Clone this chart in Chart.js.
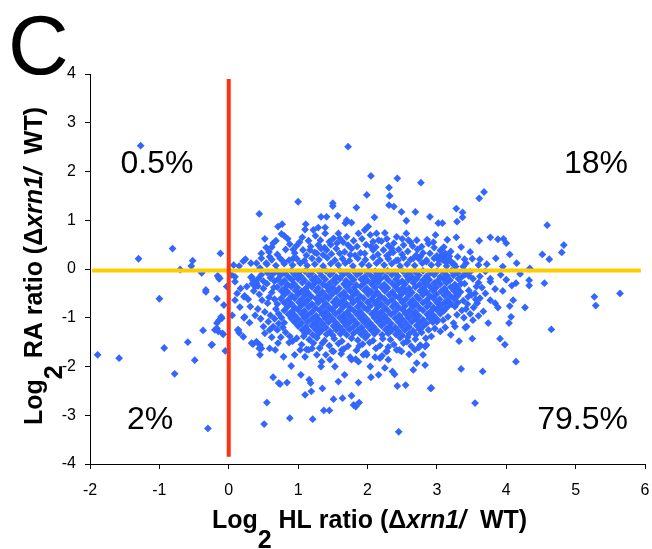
<!DOCTYPE html>
<html>
<head>
<meta charset="utf-8">
<script src="https://cdn.jsdelivr.net/npm/chart.js@4.4.1/dist/chart.umd.min.js"></script>
<style>
html,body{margin:0;padding:0;background:#fff;}
#wrap{position:relative;width:652px;height:549px;}
canvas{display:block;}
</style>
</head>
<body>
<div id="wrap"><canvas id="c" width="652" height="549"></canvas></div>
<script>
// ---- axis settings ----
const xRange = [-2, 6];
const yRange = [-4, 4];
const tickStep = 1;

// ---- reference lines ----
const horizontalLine = [[-1.97, -0.03], [5.94, -0.03]];
const verticalLine = [[0, 3.9], [0, -3.85]];

// ---- quadrant labels ----
const quadrantLabels = ['0.5%', '18%', '2%', '79.5%'];

// ---- genes: [log2 HL ratio, log2 RA ratio] ----
const upperLeftGenes = [
 [-1.27,2.53],[-0.81,0.42],[-1.30,0.21],[-0.52,0.17],[-0.54,0.06],[-0.12,0.32]
];

const lowerLeftGenes = [
 [-0.70,-0.01],[-0.39,-0.08],[-0.16,-0.14],[-0.14,-0.20],[-0.33,-0.43],[-0.03,-0.36],
 [-1.89,-1.76],[-1.58,-1.83],[-1.00,-0.61],[-0.93,-1.62],[-0.78,-2.15],[-0.59,-1.50],
 [-0.49,-1.87],[-0.33,-0.47],[-0.37,-1.26],[-0.24,-1.55],[-0.30,-3.27],[-0.17,-0.61],
 [-0.07,-0.74],[-0.11,-0.98],[-0.14,-1.05],[-0.17,-1.11],[-0.17,-1.22],[-0.15,-1.28],
 [-0.08,-1.34],[-0.05,-1.68],[-0.13,-0.19],[-0.15,-0.16],[-0.20,-1.25],[-0.09,-1.32],
 [-0.25,-1.56],[-0.10,-1.01]
];

const upperRightGenes = [
 [1.72,2.51],[2.05,1.91],[2.43,1.86],[2.77,1.77],[2.31,1.67],[1.99,1.52],[2.32,1.50],
 [1.50,1.35],[1.50,1.29],[1.00,1.38],[0.44,1.13],[1.84,1.26],[2.31,1.31],[2.38,1.28],
 [1.33,1.07],[1.41,1.07],[1.57,1.09],[2.10,1.06],[2.90,1.07],[2.49,1.17],[2.69,1.17],
 [3.37,1.16],[3.37,1.06],[3.28,1.24],[3.61,1.45],[3.68,1.58],[4.59,0.90],
 [0.71,0.87],[0.77,0.92],[1.11,0.92],[1.70,1.00],[1.68,0.94],[1.77,0.95],[2.56,0.99],
 [3.02,0.94],[3.08,0.94],[3.29,0.97],[1.10,0.81],[0.76,0.72],[0.80,0.68],[1.22,0.80],
 [1.29,0.85],[1.39,0.85],[1.06,0.65],[1.58,0.73],[1.60,0.63],[1.56,0.53],[1.51,0.63],
 [1.39,0.73],[1.32,0.59],[1.29,0.49],[1.72,0.49],[1.77,0.42],[1.87,0.73],[1.96,0.80],
 [2.01,0.87],[2.04,0.70],[2.08,0.56],[2.13,0.73],[2.25,0.74],[2.16,0.59],[2.42,0.66],
 [2.38,0.53],[2.56,0.73],[2.59,0.59],[2.71,0.59],[2.65,0.47],[2.52,0.49],[2.96,0.44],
 [3.07,0.29],[3.12,0.32],[2.90,0.32],[2.76,0.25],[2.85,0.15],[2.66,0.22],[2.44,0.18],
 [2.32,0.32],[2.23,0.39],[2.08,0.39],[1.96,0.32],[1.75,0.29],[1.60,0.32],[1.41,0.39],
 [1.27,0.32],[1.17,0.39],[1.07,0.39],[0.93,0.22],[0.79,0.15],[0.59,0.25],[0.40,0.12],
 [0.88,0.51],[0.64,0.53],[0.54,0.44],[0.47,0.32],[0.47,0.22],[0.54,0.12],
 [3.28,0.65],[3.61,0.58],[3.77,0.65],[3.88,0.61],[3.96,0.62],[4.00,0.53],
 [4.83,0.49],[4.80,0.34],[4.52,0.30],[4.62,0.20],[4.34,0.01],
 [3.48,0.35],[3.51,0.21],[3.62,0.20],[3.60,0.08],[3.04,0.22],[3.11,0.22],[3.03,0.18],
 [3.13,0.14],[3.18,0.17],[3.25,0.10],[3.27,0.05],[3.42,0.12],[3.72,0.10],[3.85,0.22],
 [4.05,0.30],[4.15,0.12],[3.95,0.05],
 [0.07,0.08],[0.15,0.06],[0.21,0.16],[0.24,0.20],[0.32,0.12],[0.45,0.02],
 [0.55,0.10],[0.68,0.07],[0.80,0.11],[0.92,0.08],[1.03,0.12],[1.13,0.07],[1.24,0.10],
 [1.36,0.06],[1.47,0.11],[1.58,0.08],[1.68,0.12],[1.79,0.06],[1.92,0.10],[2.02,0.07],
 [2.13,0.12],[2.24,0.08],[2.35,0.11],[2.47,0.06],[2.57,0.10],[2.68,0.07],[2.79,0.12],
 [2.92,0.08],[3.02,0.10],[3.14,0.06],[3.24,0.09],[3.38,0.05],
 [0.62,0.19],[0.74,0.22],[0.87,0.18],[0.98,0.21],[1.09,0.17],[1.20,0.22],[1.30,0.19],
 [1.42,0.23],[1.53,0.18],[1.64,0.21],[1.74,0.17],[1.86,0.22],[1.97,0.19],[2.08,0.24],
 [2.18,0.18],[2.30,0.21],[2.41,0.17],[2.52,0.23],[2.62,0.19],[2.74,0.21],[2.85,0.18],
 [2.96,0.22],[3.08,0.19],[3.20,0.16],
 [0.70,0.30],[0.95,0.33],[1.12,0.28],[1.24,0.34],[1.36,0.29],[1.48,0.31],[1.67,0.35],
 [1.82,0.28],[1.90,0.33],[2.15,0.30],[2.28,0.27],[2.37,0.34],[2.50,0.30],[2.58,0.36],
 [2.70,0.28],[2.80,0.33],[3.00,0.27],[3.18,0.26],
 [0.62,0.45],[0.98,0.48],[1.18,0.46],[1.38,0.44],[1.55,0.42],[1.85,0.46],[1.98,0.50],
 [2.12,0.45],[2.30,0.48],[2.45,0.40],[2.62,0.55],[2.78,0.46],[2.88,0.52],[3.10,0.45],
 [1.02,0.55],[1.45,0.56],[2.20,0.57],[2.86,0.60],
 [0.52,0.62],[0.68,0.58],[0.85,0.62],[0.93,0.40],[1.15,0.58],[1.25,0.68],[1.33,0.42],
 [1.47,0.50],[1.65,0.55],[1.70,0.66],[1.80,0.58],[1.92,0.62],[2.05,0.46],[2.28,0.62],
 [2.35,0.42],[2.50,0.62],[2.72,0.40],[2.95,0.55],[3.05,0.38],[3.20,0.36],[3.35,0.45],
 [3.15,0.60],[2.98,0.70],[0.58,0.35],[0.82,0.40],[3.30,0.25],[3.40,0.20]
];

const lowerRightGenes = [
 // outer lower-right scatter
 [5.64,-0.50],[5.27,-0.57],[5.29,-0.75],[4.55,-0.29],[4.33,-0.23],[4.33,-0.34],[4.20,-0.10],
 [4.65,-1.24],[4.27,-0.79],[4.10,-0.64],[4.05,-0.76],[4.07,-0.98],[4.04,-1.11],[4.14,-1.90],
 [3.91,-1.43],[3.98,-1.55],[3.66,-2.10],[3.35,-2.05],[3.55,-2.75],[2.92,-2.44],[3.51,-1.43],
 [3.32,-1.48],[3.88,-0.79],[3.84,-0.70],[3.77,-0.64],[3.74,-1.11],[3.67,-0.87],[3.60,-0.96],
 [3.53,-0.79],[3.43,-1.18],[3.41,-1.20],[3.77,-0.26],[3.84,-0.41],[3.65,-0.38],[3.57,-0.36],
 [3.50,-0.53],[3.45,-0.57],[3.62,-0.60],[3.55,-0.50],[4.08,-0.34],[4.14,-0.29],[3.77,-0.20],
 [3.40,-0.30],[3.46,-0.44],[3.38,-0.65],[3.44,-0.72],[3.36,-0.85],[3.48,-0.92],[3.39,-1.00],
 [3.52,-1.05],[3.58,-0.70],[3.70,-0.50],[3.40,-0.12],[3.52,-0.20],[3.62,-0.15],[3.70,-0.05],
 [3.92,-0.12],[4.00,-0.22],[3.95,-0.45],
 [2.97,-1.22],[2.95,-1.05],[3.24,-1.11],[3.26,-1.18],[3.00,-1.08],[3.09,-1.05],[3.16,-0.98],
 [3.29,-0.94],[3.26,-0.77],[3.19,-0.70],[3.09,-0.84],[3.02,-0.70],
 [3.30,-0.55],[3.42,-0.82],[3.56,-0.62],[3.60,-0.28],[3.48,-0.06],
 // lower tail
 [0.88,-3.06],[1.21,-3.08],[1.37,-2.90],[1.45,-2.90],[1.51,-2.67],[1.64,-2.65],[1.77,-2.60],
 [1.80,-2.79],[1.88,-2.74],[1.83,-2.82],[2.45,-3.34],[2.43,-2.40],[2.55,-2.38],[2.91,-2.45],
 [1.10,-2.58],[1.19,-2.51],[0.64,-2.22],[0.74,-2.36],[0.84,-2.33],[1.04,-2.17],[1.16,-2.27],
 [1.18,-2.34],[1.35,-2.45],[1.58,-2.31],[1.67,-2.17],[1.87,-2.33],[2.05,-2.22],[2.16,-2.17],
 [2.36,-2.10],[2.39,-2.16],[0.90,-1.99],[1.33,-2.00],[1.34,-1.90],[1.53,-2.00],[1.77,-1.86],
 [1.87,-1.90],[1.94,-1.76],[2.04,-2.00],[2.25,-2.03],[2.30,-1.86],[2.49,-1.69],[2.66,-2.07],
 [2.71,-1.93],[2.83,-1.97],[2.80,-1.76],[2.83,-1.59],[0.55,-2.74],[0.51,-3.18],[0.72,-2.34],
 [0.45,-1.76],[0.35,-1.54],[0.44,-1.63],[0.59,-1.63],[0.67,-1.66],[0.71,-1.52],[0.79,-1.80],
 [0.87,-1.51],[0.95,-1.76],[1.03,-1.66],[1.10,-1.80],[1.15,-1.66],[1.20,-1.63],[1.27,-1.76],
 [1.46,-1.86],[1.51,-1.69],[1.63,-1.66],[1.75,-1.81],[1.83,-1.85],[1.99,-1.76],[2.11,-1.81],
 [2.18,-1.83],[2.28,-1.69],[2.42,-1.66],[2.56,-1.49],[2.68,-1.66],[2.76,-1.56],[2.85,-1.56],
 // near the vertical line
 [0.09,-0.16],[0.09,-0.26],[0.05,-0.95],[0.09,-0.64],[0.13,-1.25],[0.15,-1.31],[0.21,-1.39],
 [0.22,-1.00],[0.22,-0.57],[0.31,-0.77],[0.33,-1.52],[0.40,-1.49],[0.45,-1.56],[0.47,-1.63],
 [0.52,-1.32],[0.59,-1.25],[0.64,-1.18],[0.04,-0.12],[0.14,-1.25],[0.23,-0.98],[0.33,-0.16],
 [0.35,-0.23],[0.40,-0.29],[0.43,-0.19],[0.38,-0.36],[0.23,-0.55],[0.32,-0.17],
 [0.36,-0.45],[0.44,-0.52],[0.50,-0.40],[0.55,-0.30],[0.60,-0.18],[0.62,-0.48],[0.48,-0.64],
 [0.56,-0.70],[0.66,-0.62],[0.42,-0.82],[0.52,-0.88],[0.60,-0.95],[0.68,-0.82],[0.46,-1.02],
 [0.57,-1.08],[0.66,-1.02],[0.72,-1.12],[0.38,-0.95],[0.30,-1.10],[0.50,-1.18],[0.70,-1.25],
 [0.78,-1.20],[0.82,-1.30],[0.75,-1.40],[0.62,-1.40],[0.88,-1.38],[0.65,-0.38],[0.66,-0.25],
 [0.58,-0.58],[0.70,-0.72],[0.72,-0.92],[0.76,-1.00],[0.80,-1.10],[0.28,-0.62],[0.26,-0.36],
 [0.17,-0.40],[0.16,-0.78],[0.12,-0.50],[0.47,-0.12],[0.56,-0.08],[0.64,-0.10],[0.34,-0.30],
 [0.42,-0.35],[0.50,-0.25],
 // semi-dense lower band
 [0.98,-1.42],[1.16,-1.45],[1.27,-1.41],[1.38,-1.47],[1.52,-1.43],[1.63,-1.48],[1.77,-1.42],
 [1.86,-1.46],[1.97,-1.41],[2.08,-1.47],[2.22,-1.43],[2.33,-1.45],[2.47,-1.41],[2.58,-1.48],
 [2.69,-1.44],[2.84,-1.42],[1.05,-1.55],[1.22,-1.52],[1.45,-1.57],[1.58,-1.53],[1.72,-1.58],
 [1.93,-1.54],[2.03,-1.51],[2.18,-1.57],[2.38,-1.55],[2.52,-1.52],[2.63,-1.58],[1.12,-1.65],
 [1.31,-1.62],[1.49,-1.68],[1.66,-1.64],[1.84,-1.67],[2.12,-1.63],[2.27,-1.69],[2.46,-1.66],
 [2.74,-1.61],[1.40,-1.76],[1.62,-1.74],[1.98,-1.72],[2.21,-1.78],[2.60,-1.75],
 [0.92,-1.48],[1.08,-1.38],[2.78,-1.30],[2.88,-1.25],[2.92,-1.38],[3.05,-1.28],[3.12,-1.20],
 [3.20,-1.35],[1.35,-1.52],[1.88,-1.58],[2.30,-1.60],[2.58,-1.40],
 // dense core
 [0.70,-0.05],[0.81,-0.08],[0.90,-0.04],[1.01,-0.07],[1.10,-0.05],[1.19,-0.09],[1.31,-0.06],
 [1.40,-0.04],[1.49,-0.08],[1.61,-0.05],[1.70,-0.07],[1.80,-0.04],[1.89,-0.08],[2.00,-0.06],
 [2.11,-0.05],[2.20,-0.08],[2.29,-0.04],[2.40,-0.07],[2.51,-0.05],[2.60,-0.09],[2.69,-0.06],
 [2.80,-0.04],[2.91,-0.08],[3.00,-0.05],[3.10,-0.07],[3.21,-0.04],[3.30,-0.08],[3.41,-0.06],
 [0.75,-0.13],[0.86,-0.16],[0.95,-0.12],[1.04,-0.15],[1.16,-0.13],[1.25,-0.17],[1.34,-0.14],
 [1.46,-0.12],[1.55,-0.16],[1.64,-0.13],[1.75,-0.15],[1.85,-0.12],[1.96,-0.16],[2.05,-0.14],
 [2.14,-0.13],[2.26,-0.16],[2.35,-0.12],[2.44,-0.15],[2.56,-0.14],[2.65,-0.17],[2.74,-0.13],
 [2.85,-0.15],[2.96,-0.12],[3.05,-0.16],[3.15,-0.14],[3.24,-0.13],[3.36,-0.16],[3.46,-0.14],
 [0.71,-0.21],[0.80,-0.24],[0.91,-0.22],[1.00,-0.20],[1.09,-0.23],[1.21,-0.22],[1.30,-0.25],
 [1.39,-0.21],[1.51,-0.23],[1.60,-0.20],[1.69,-0.24],[1.80,-0.22],[1.91,-0.21],[2.00,-0.24],
 [2.10,-0.22],[2.19,-0.20],[2.30,-0.23],[2.41,-0.21],[2.50,-0.25],[2.59,-0.22],[2.71,-0.20],
 [2.80,-0.23],[2.89,-0.22],[3.01,-0.24],[3.10,-0.21],[3.19,-0.23],[3.31,-0.20],
 [0.76,-0.29],[0.85,-0.32],[0.94,-0.30],[1.06,-0.28],[1.15,-0.31],[1.24,-0.29],[1.36,-0.32],
 [1.45,-0.30],[1.54,-0.28],[1.66,-0.31],[1.75,-0.30],[1.84,-0.33],[1.95,-0.29],[2.06,-0.31],
 [2.15,-0.28],[2.24,-0.32],[2.36,-0.30],[2.45,-0.29],[2.54,-0.31],[2.66,-0.28],[2.75,-0.32],
 [2.84,-0.30],[2.96,-0.29],[3.05,-0.31],[3.14,-0.28],[3.26,-0.32],[3.35,-0.30],
 [0.70,-0.37],[0.81,-0.39],[0.90,-0.36],[0.99,-0.38],[1.11,-0.40],[1.20,-0.37],[1.29,-0.39],
 [1.41,-0.36],[1.50,-0.38],[1.59,-0.40],[1.70,-0.37],[1.81,-0.38],[1.90,-0.36],[1.99,-0.40],
 [2.11,-0.38],[2.20,-0.37],[2.29,-0.39],[2.40,-0.36],[2.51,-0.38],[2.60,-0.40],[2.69,-0.37],
 [2.81,-0.39],[2.90,-0.36],[2.99,-0.38],[3.11,-0.40],[3.20,-0.37],[3.30,-0.39],
 [0.76,-0.45],[0.85,-0.47],[0.96,-0.44],[1.05,-0.46],[1.14,-0.48],[1.26,-0.45],[1.35,-0.47],
 [1.44,-0.44],[1.55,-0.46],[1.66,-0.48],[1.75,-0.45],[1.84,-0.47],[1.96,-0.44],[2.05,-0.46],
 [2.14,-0.48],[2.25,-0.45],[2.36,-0.47],[2.45,-0.44],[2.55,-0.46],[2.64,-0.48],[2.76,-0.45],
 [2.85,-0.47],[2.94,-0.44],[3.06,-0.46],[3.15,-0.48],[3.25,-0.45],[3.34,-0.47],
 [0.80,-0.53],[0.91,-0.55],[1.00,-0.52],[1.10,-0.54],[1.19,-0.56],[1.31,-0.53],[1.40,-0.55],
 [1.49,-0.52],[1.61,-0.54],[1.70,-0.56],[1.80,-0.53],[1.89,-0.55],[2.01,-0.52],[2.10,-0.54],
 [2.19,-0.56],[2.31,-0.53],[2.40,-0.55],[2.49,-0.52],[2.60,-0.54],[2.71,-0.56],[2.80,-0.53],
 [2.90,-0.55],[2.99,-0.52],[3.11,-0.54],[3.20,-0.56],[3.29,-0.53],
 [0.75,-0.61],[0.86,-0.63],[0.95,-0.60],[1.05,-0.62],[1.14,-0.64],[1.26,-0.61],[1.35,-0.63],
 [1.44,-0.60],[1.55,-0.62],[1.65,-0.64],[1.76,-0.61],[1.85,-0.63],[1.94,-0.60],[2.06,-0.62],
 [2.15,-0.64],[2.24,-0.61],[2.35,-0.63],[2.46,-0.60],[2.55,-0.62],[2.65,-0.64],[2.74,-0.61],
 [2.86,-0.63],[2.95,-0.60],[3.04,-0.62],[3.15,-0.64],[3.25,-0.61],
 [0.80,-0.69],[0.90,-0.71],[1.01,-0.68],[1.10,-0.70],[1.20,-0.72],[1.29,-0.69],[1.40,-0.71],
 [1.51,-0.68],[1.60,-0.70],[1.70,-0.72],[1.79,-0.69],[1.90,-0.71],[2.00,-0.68],[2.11,-0.70],
 [2.20,-0.72],[2.29,-0.69],[2.40,-0.71],[2.50,-0.68],[2.61,-0.70],[2.70,-0.72],[2.80,-0.69],
 [2.89,-0.71],[3.00,-0.68],[3.10,-0.70],[3.21,-0.72],[3.30,-0.69],
 [0.85,-0.77],[0.95,-0.79],[1.04,-0.76],[1.15,-0.78],[1.25,-0.80],[1.36,-0.77],[1.45,-0.79],
 [1.54,-0.76],[1.65,-0.78],[1.75,-0.80],[1.86,-0.77],[1.95,-0.79],[2.04,-0.76],[2.15,-0.78],
 [2.25,-0.80],[2.36,-0.77],[2.45,-0.79],[2.54,-0.76],[2.65,-0.78],[2.75,-0.80],[2.86,-0.77],
 [2.95,-0.79],[3.04,-0.76],[3.15,-0.78],
 [0.80,-0.85],[0.91,-0.87],[1.00,-0.84],[1.09,-0.86],[1.20,-0.88],[1.31,-0.85],[1.40,-0.87],
 [1.49,-0.84],[1.60,-0.86],[1.71,-0.88],[1.80,-0.85],[1.89,-0.87],[2.00,-0.84],[2.11,-0.86],
 [2.20,-0.88],[2.29,-0.85],[2.40,-0.87],[2.51,-0.84],[2.60,-0.86],[2.69,-0.88],[2.80,-0.85],
 [2.91,-0.87],[3.00,-0.84],[3.10,-0.86],
 [0.86,-0.93],[0.95,-0.95],[1.05,-0.92],[1.14,-0.94],[1.26,-0.96],[1.35,-0.93],[1.45,-0.95],
 [1.54,-0.92],[1.66,-0.94],[1.75,-0.96],[1.85,-0.93],[1.94,-0.95],[2.06,-0.92],[2.15,-0.94],
 [2.25,-0.96],[2.34,-0.93],[2.46,-0.95],[2.55,-0.92],[2.65,-0.94],[2.74,-0.96],[2.86,-0.93],
 [2.95,-0.95],[3.05,-0.92],
 [0.90,-1.01],[1.00,-1.03],[1.09,-1.00],[1.20,-1.02],[1.30,-1.04],[1.39,-1.01],[1.50,-1.03],
 [1.60,-1.00],[1.69,-1.02],[1.80,-1.04],[1.90,-1.01],[1.99,-1.03],[2.10,-1.00],[2.20,-1.02],
 [2.29,-1.04],[2.40,-1.01],[2.50,-1.03],[2.59,-1.00],[2.70,-1.02],[2.80,-1.04],[2.89,-1.01],
 [3.00,-1.03],
 [0.95,-1.09],[1.05,-1.11],[1.14,-1.08],[1.25,-1.10],[1.35,-1.12],[1.44,-1.09],[1.55,-1.11],
 [1.65,-1.08],[1.74,-1.10],[1.85,-1.12],[1.95,-1.09],[2.04,-1.11],[2.15,-1.08],[2.25,-1.10],
 [2.34,-1.12],[2.45,-1.09],[2.55,-1.11],[2.64,-1.08],[2.75,-1.10],[2.85,-1.12],[2.94,-1.09],
 [1.00,-1.17],[1.11,-1.19],[1.20,-1.16],[1.29,-1.18],[1.40,-1.20],[1.51,-1.17],[1.60,-1.19],
 [1.69,-1.16],[1.80,-1.18],[1.91,-1.20],[2.00,-1.17],[2.09,-1.19],[2.20,-1.16],[2.31,-1.18],
 [2.40,-1.20],[2.49,-1.17],[2.60,-1.19],[2.71,-1.16],[2.80,-1.18],
 [1.06,-1.25],[1.15,-1.27],[1.25,-1.24],[1.34,-1.26],[1.46,-1.28],[1.55,-1.25],[1.65,-1.27],
 [1.74,-1.24],[1.86,-1.26],[1.95,-1.28],[2.05,-1.25],[2.14,-1.27],[2.26,-1.24],[2.35,-1.26],
 [2.45,-1.28],[2.54,-1.25],[2.66,-1.27],[2.75,-1.24],
 [1.10,-1.33],[1.21,-1.35],[1.30,-1.32],[1.41,-1.34],[1.50,-1.36],[1.61,-1.33],[1.70,-1.35],
 [1.80,-1.32],[1.91,-1.34],[2.00,-1.36],[2.10,-1.33],[2.21,-1.35],[2.30,-1.32],[2.41,-1.34],
 [2.50,-1.36],[2.60,-1.33],[2.70,-1.35]
];

const allGenes = upperLeftGenes.concat(lowerLeftGenes, upperRightGenes, lowerRightGenes);
const toXY = arr => arr.map(p => ({x: p[0], y: p[1]}));

const FONT = '"Liberation Sans", Arial, Helvetica, sans-serif';

const textPlugin = {
  id: 'textPlugin',
  afterDraw(chart) {
    const ctx = chart.ctx;
    ctx.save();
    ctx.fillStyle = '#000';
    ctx.textBaseline = 'alphabetic';

    // panel letter
    ctx.font = '84px ' + FONT;
    ctx.textAlign = 'left';
    ctx.fillText('C', 8, 74);

    // quadrant labels
    ctx.font = '32px ' + FONT;
    ctx.textAlign = 'left';
    ctx.fillText(quadrantLabels[0], 120.5, 173);
    ctx.fillText(quadrantLabels[2], 127, 429);
    ctx.textAlign = 'right';
    ctx.fillText(quadrantLabels[1], 628, 173);
    ctx.fillText(quadrantLabels[3], 628, 429);

    // axis titles with subscript 2
    const bold = 'bold 25px ' + FONT;
    const boldIt = 'italic bold 25px ' + FONT;
    function parts(mid) {
      return [
        {t: 'Log', f: bold, dy: 0},
        {t: '2', f: bold, dy: 20},
        {t: ' ' + mid + ' ratio (\u0394', f: bold, dy: 0},
        {t: 'xrn1/', f: boldIt, dy: 0},
        {t: '  WT)', f: bold, dy: 0}
      ];
    }
    function drawParts(ps, startX, baseY) {
      let x = startX;
      ps.forEach(p => {
        ctx.font = p.f;
        ctx.fillText(p.t, x, baseY + p.dy);
        x += ctx.measureText(p.t).width;
      });
    }
    function width(ps) {
      let w = 0;
      ps.forEach(p => { ctx.font = p.f; w += ctx.measureText(p.t).width; });
      return w;
    }
    ctx.textAlign = 'left';
    const xp = parts('HL');
    const xw = width(xp);
    const area = chart.chartArea;
    const xc = (area.left + area.right) / 2 + 2;
    drawParts(xp, xc - xw / 2, 528);

    const yp = parts('RA');
    const yw = width(yp);
    const yc = (area.top + area.bottom) / 2 - 3;
    ctx.save();
    ctx.translate(42, yc);
    ctx.rotate(-Math.PI / 2);
    drawParts(yp, -yw / 2, 0);
    ctx.restore();

    ctx.restore();
  }
};

new Chart(document.getElementById('c'), {
  type: 'scatter',
  data: {
    datasets: [
      {
        label: 'log2 HL = 0',
        data: toXY(verticalLine),
        showLine: true,
        borderColor: '#FF3311',
        borderWidth: 4,
        borderCapStyle: 'butt',
        pointRadius: 0,
        order: 0
      },
      {
        label: 'log2 RA = 0',
        data: toXY(horizontalLine),
        showLine: true,
        borderColor: '#FFCC00',
        borderWidth: 4,
        borderCapStyle: 'butt',
        pointRadius: 0,
        order: 1
      },
      {
        label: 'genes',
        data: toXY(allGenes),
        pointStyle: 'rectRot',
        pointRadius: 3.9,
        pointHoverRadius: 3.9,
        backgroundColor: '#3366FF',
        borderColor: '#3366FF',
        borderWidth: 0,
        order: 2
      }
    ]
  },
  options: {
    responsive: false,
    animation: false,
    devicePixelRatio: 1,
    events: [],
    layout: { padding: { top: 74, right: 7, left: 0, bottom: 0 } },
    plugins: { legend: { display: false }, tooltip: { enabled: false } },
    scales: {
      x: {
        type: 'linear',
        min: xRange[0], max: xRange[1],
        ticks: { stepSize: tickStep, color: '#000', font: { family: FONT, size: 16 }, padding: 12, maxRotation: 0 },
        grid: { drawOnChartArea: false, drawTicks: true, tickLength: 5, tickColor: '#000', color: '#000' },
        border: { display: true, color: '#000', width: 1 },
        afterFit(scale) { scale.height = 85; scale.paddingLeft = 0; scale.paddingRight = 0; }
      },
      y: {
        type: 'linear',
        min: yRange[0], max: yRange[1],
        ticks: { stepSize: tickStep, color: '#000', font: { family: FONT, size: 16 }, padding: 9 },
        grid: { drawOnChartArea: false, drawTicks: true, tickLength: 5, tickColor: '#000', color: '#000' },
        border: { display: true, color: '#000', width: 1 },
        afterFit(scale) { scale.width = 90; scale.paddingTop = 0; scale.paddingBottom = 0; }
      }
    }
  },
  plugins: [textPlugin]
});
</script>
</body>
</html>
